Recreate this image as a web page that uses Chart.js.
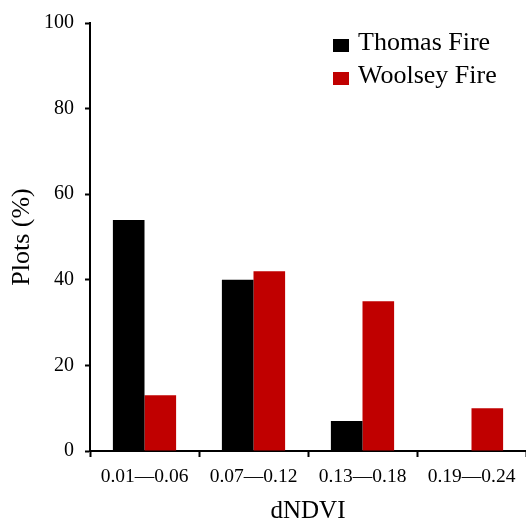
<!DOCTYPE html>
<html>
<head>
<meta charset="utf-8">
<script src="https://cdn.jsdelivr.net/npm/chart.js@4.4.1/dist/chart.umd.min.js"></script>
<style>
  html, body { margin: 0; padding: 0; background: #fff; }
  #wrap { width: 526px; height: 527px; }
</style>
</head>
<body>
<div id="wrap"><canvas id="c"></canvas></div>
<script>
const categories = ['0.01\u20140.06', '0.07\u20140.12', '0.13\u20140.18', '0.19\u20140.24'];
const thomas = [54, 40, 7, 0];
const woolsey = [13, 42, 35, 10];
const yTicks = [0, 20, 40, 60, 80, 100];

const serif = 'Liberation Serif';

// legend drawn inside the plot area, top right
const innerLegend = {
  id: 'innerLegend',
  afterDraw(chart) {
    const ctx = chart.ctx;
    const area = chart.chartArea;
    const x0 = area.left + 243;
    let y0 = area.top + 16;
    ctx.save();
    ctx.font = '26px "' + serif + '"';
    ctx.textBaseline = 'middle';
    chart.data.datasets.forEach(ds => {
      ctx.fillStyle = ds.backgroundColor;
      ctx.fillRect(x0, y0, 16, 13);
      ctx.fillStyle = '#000';
      ctx.fillText(ds.label, x0 + 25, y0 + 4);
      y0 += 33;
    });
    ctx.restore();
  }
};

new Chart(document.getElementById('c'), {
  type: 'bar',
  data: {
    labels: categories,
    datasets: [
      { label: 'Thomas Fire', data: thomas, backgroundColor: '#000000' },
      { label: 'Woolsey Fire', data: woolsey, backgroundColor: '#C00000' }
    ]
  },
  options: {
    responsive: true,
    maintainAspectRatio: false,
    animation: false,
    categoryPercentage: 0.58,
    barPercentage: 1.0,
    layout: { padding: { top: 21, right: 0, left: 0, bottom: 0 } },
    plugins: {
      legend: { display: false },
      tooltip: { enabled: false }
    },
    scales: {
      x: {
        afterFit(scale) { scale.height = 76; },
        grid: {
          display: true,
          drawOnChartArea: false,
          offset: true,
          tickLength: 6,
          tickWidth: 2,
          tickColor: '#000'
        },
        border: { display: true, color: '#000', width: 2 },
        ticks: {
          color: '#000',
          padding: 8,
          font: { family: serif, size: 19.5 }
        },
        title: {
          display: true,
          text: 'dNDVI',
          color: '#000',
          padding: { top: 0, bottom: 1 },
          font: { family: serif, size: 25 }
        }
      },
      y: {
        min: 0,
        max: 100,
        afterFit(scale) { scale.width = 90; },
        afterBuildTicks(scale) { scale.ticks = yTicks.map(v => ({ value: v })); },
        grid: {
          display: true,
          drawOnChartArea: false,
          tickLength: 5,
          tickWidth: 2,
          tickColor: '#000'
        },
        border: { display: true, color: '#000', width: 2 },
        ticks: {
          color: '#000',
          padding: 11,
          font: { family: serif, size: 20 }
        },
        title: {
          display: true,
          text: 'Plots (%)',
          color: '#000',
          padding: { top: 7, bottom: 0 },
          font: { family: serif, size: 26 }
        }
      }
    }
  },
  plugins: [innerLegend]
});
</script>
</body>
</html>
